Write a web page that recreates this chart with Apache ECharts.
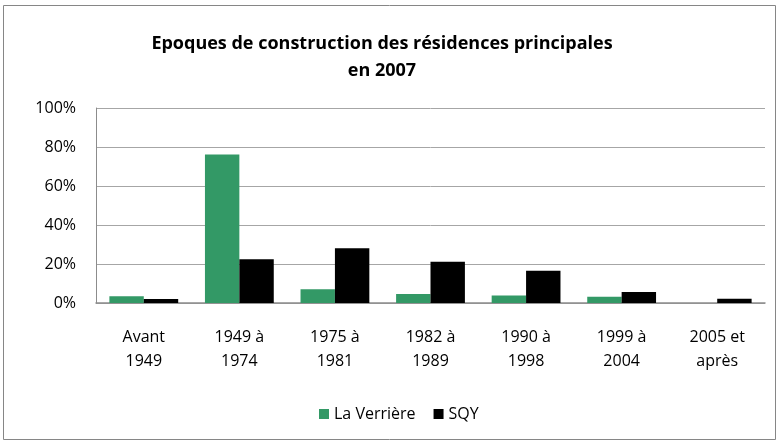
<!DOCTYPE html>
<html>
<head>
<meta charset="utf-8">
<script src="https://cdn.jsdelivr.net/npm/echarts@6/dist/echarts.min.js"></script>
<style>
html,body{margin:0;padding:0;background:#fff;}
#chart{width:779px;height:444px;}
</style>
</head>
<body>
<div id="chart"></div>
<script>
const categories = ["Avant\n1949", "1949 à\n1974", "1975 à\n1981", "1982 à\n1989", "1990 à\n1998", "1999 à\n2004", "2005 et\naprès"];
const laVerriere = [3.4, 76.1, 7.0, 4.6, 3.9, 3.2, 0];
const sqy = [2.0, 22.5, 28.1, 21.2, 16.5, 5.6, 2.2];
const yTicks = [0, 20, 40, 60, 80, 100];

const FONT = "'Open Sans', 'Noto Sans', sans-serif";
const chart = echarts.init(document.getElementById('chart'), null, {renderer: 'canvas'});
chart.setOption({
  animation: false,
  backgroundColor: '#fff',
  graphic: [{
    type: 'rect',
    shape: {x: 3.5, y: 5.5, width: 772, height: 434},
    style: {fill: 'none', stroke: '#868686', lineWidth: 1},
    silent: true
  }],
  title: {
    text: 'Epoques de construction des résidences principales\nen 2007',
    left: 377,
    textAlign: 'center',
    top: 25,
    textStyle: {fontFamily: FONT, fontWeight: 'bold', fontSize: 18, color: '#000', lineHeight: 27},
  },
  legend: {
    bottom: 17,
    left: 314,
    itemWidth: 10,
    itemHeight: 10,
    itemGap: 18,
    icon: 'rect',
    textStyle: {fontFamily: FONT, fontSize: 16, color: '#000'},
    data: ['La Verrière', 'SQY']
  },
  grid: {left: 96, right: 14, top: 108, bottom: 141},
  xAxis: {
    type: 'category',
    data: categories,
    axisLine: {lineStyle: {color: '#8c8c8c', width: 1.5}},
    axisTick: {show: false},
    axisLabel: {fontFamily: FONT, fontSize: 16, color: '#000', lineHeight: 24, margin: 22, interval: 0}
  },
  yAxis: {
    type: 'value',
    min: yTicks[0],
    max: yTicks[yTicks.length - 1],
    interval: 20,
    axisLine: {show: true, lineStyle: {color: '#8c8c8c', width: 1}},
    axisTick: {show: false},
    splitLine: {lineStyle: {color: '#a6a6a6', width: 1}},
    axisLabel: {fontFamily: FONT, fontSize: 16, color: '#000', margin: 20, formatter: '{value}%'}
  },
  series: [
    {name: 'La Verrière', type: 'bar', data: laVerriere, barGap: '0%', barCategoryGap: '28%',
      itemStyle: {color: '#339966'}},
    {name: 'SQY', type: 'bar', data: sqy, barGap: '0%', barCategoryGap: '28%',
      itemStyle: {color: '#000000'}}
  ]
});
</script>
</body>
</html>
